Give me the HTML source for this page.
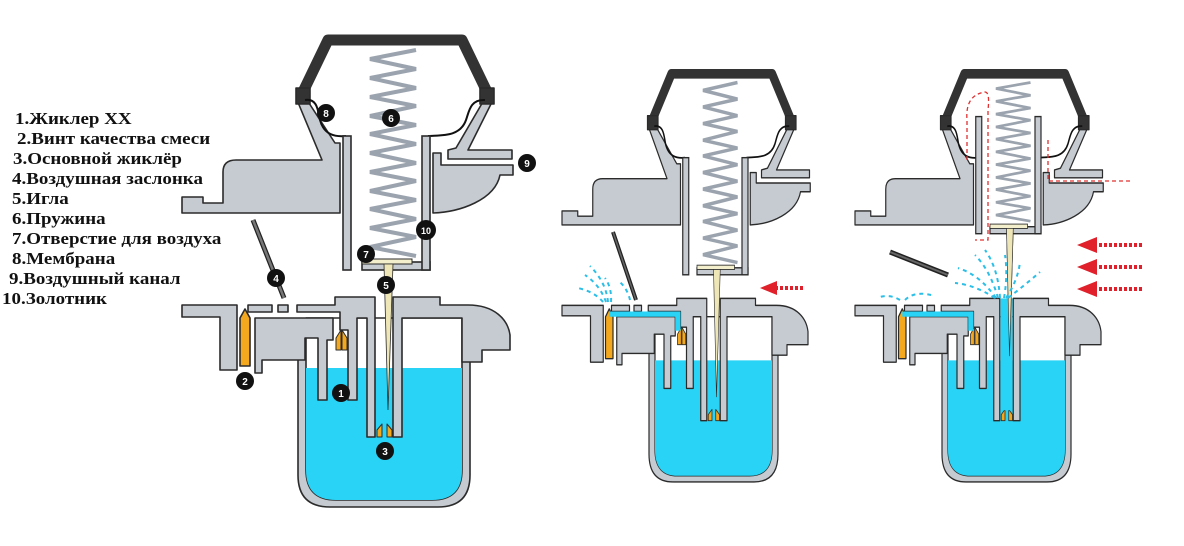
<!DOCTYPE html>
<html><head><meta charset="utf-8"><style>
html,body{margin:0;padding:0;background:#fff;}
body{width:1184px;height:546px;overflow:hidden;position:relative;}
.leg{position:absolute;font-family:"Liberation Serif","Noto Serif CJK SC",serif;font-weight:bold;font-size:16.5px;color:#111;white-space:nowrap;line-height:1;transform:scaleX(1.15);transform-origin:0 0;}
svg{position:absolute;left:0;top:0;}
</style></head><body>
<svg width="1184" height="546" viewBox="0 0 1184 546">
<defs>
<g id="lower" stroke="#2b2b2b" stroke-width="1.6" stroke-linejoin="round">
  <path d="M298,330 V475 Q298,507 330,507 H438 Q470,507 470,475 V330 Z" fill="#c6cbd1"/>
  <path d="M306,318 V470 Q306,500 336,500 H432 Q462,500 462,470 V318 Z" fill="#fff"/>
  <path d="M306,368 V470 Q306,500 336,500 H432 Q462,500 462,470 V368 Z" fill="#29d3f5" stroke="none"/>
  <polygon points="182,305 237,305 237,370 220,370 220,317 182,317" fill="#c6cbd1"/>
  <rect x="248" y="305" width="24" height="7" fill="#c6cbd1"/>
  <rect x="278" y="305" width="10" height="7" fill="#c6cbd1"/>
  <polygon points="255,318 333,318 333,340 327,340 327,400 318,400 318,338 305,338 305,360 262,360 262,373 255,373" fill="#c6cbd1"/>
  <polygon points="297,305 335,305 335,297 375,297 375,437 367,437 367,318 357,318 357,400 348,400 348,330 340,330 340,312 297,312" fill="#c6cbd1"/>
  <path d="M393,297 H440 V305 H468 C495,305 508,320 510,335 V350 H482 V362 H462 V318 H402 V437 H393 Z" fill="#c6cbd1"/>
  <polygon points="240,318 245,309 250,318 250,366 240,366" fill="#f4a81d"/>
  <polygon points="336,338 341,330 341,350 336,350" fill="#f4a81d" stroke-width="1"/>
  <polygon points="342,330 347,338 347,350 342,350" fill="#f4a81d" stroke-width="1"/>
  <polygon points="377,430 382,424 382,437 377,437" fill="#f4a81d" stroke-width="1"/>
  <polygon points="387,424 392,430 392,437 387,437" fill="#f4a81d" stroke-width="1"/>
</g>
<g id="upper" stroke="#2b2b2b" stroke-width="1.6" stroke-linejoin="round">
  <path d="M297,100 L307,100 L335,143 L340,143 L340,213 L182,213 L182,197 L203,197 L203,203 L223,203 L223,172 Q223,160 236,160 L322,160 Z" fill="#c6cbd1"/>
  <polygon points="484,100 493,100 468,150 512,150 512,159 448,159 448,150 456,148" fill="#c6cbd1"/>
  <path d="M433,153 H441 V165 H513 V175 H500 C495,200 460,212 433,213 Z" fill="#c6cbd1"/>
  <path d="M301,96 L328,40 L462,40 L489,96" fill="none" stroke="#333" stroke-width="11"/>
  <rect x="296" y="88" width="14" height="16" fill="#333"/>
  <rect x="480" y="88" width="14" height="16" fill="#333"/>
  <path d="M305,100 C318,98 318,112 320,120 C324,135 335,137 346,136" fill="none" stroke="#111" stroke-width="2"/>
  <path d="M485,100 C470,99 469,112 466,120 C460,137 442,135 428,136" fill="none" stroke="#111" stroke-width="2"/>
</g>
<g id="slider" stroke="#2b2b2b" stroke-width="1.6">
  <rect x="343" y="136" width="8" height="134" fill="#c6cbd1"/>
  <rect x="362" y="262" width="68" height="8" fill="#c6cbd1"/>
  <rect x="422" y="136" width="8" height="134" fill="#c6cbd1"/>
  <rect x="362" y="259" width="50" height="5" fill="#f3eecb" stroke-width="1"/>
  <polygon points="384,264 393,264 388,410" fill="#efe6b8" stroke-width="0.8"/>
</g>
<polyline id="spring" points="416,50 370,59 416,69 370,78 416,88 370,97 416,106 370,116 416,125 370,134 416,144 370,153 416,163 370,172 416,181 370,191 416,200 370,209 416,219 370,228 416,237 370,247 416,256" fill="none" stroke="#9ba4ae" stroke-width="4"/>
</defs>

<use href="#lower"/>
<use href="#upper"/>
<use href="#spring"/>
<use href="#slider"/>
<line x1="253" y1="220" x2="284" y2="298" stroke="#222" stroke-width="5"/>
<line x1="253" y1="220" x2="284" y2="298" stroke="#777" stroke-width="2.5"/>

<g font-family="Liberation Sans, sans-serif" font-weight="bold" font-size="10" fill="#fff" text-anchor="middle">
  <circle cx="341" cy="393" r="9" fill="#111"/><text x="341" y="397">1</text>
  <circle cx="245" cy="381" r="9" fill="#111"/><text x="245" y="385">2</text>
  <circle cx="385" cy="451" r="9" fill="#111"/><text x="385" y="455">3</text>
  <circle cx="276" cy="278" r="9" fill="#111"/><text x="276" y="282">4</text>
  <circle cx="386" cy="285" r="9" fill="#111"/><text x="386" y="289">5</text>
  <circle cx="391" cy="118" r="9" fill="#111"/><text x="391" y="122">6</text>
  <circle cx="366" cy="254" r="9" fill="#111"/><text x="366" y="258">7</text>
  <circle cx="326" cy="113" r="9" fill="#111"/><text x="326" y="117">8</text>
  <circle cx="527" cy="163" r="9" fill="#111"/><text x="527" y="167">9</text>
  <circle cx="426" cy="230" r="10" fill="#111"/><text x="426" y="234" font-size="9">10</text>
</g>

<g transform="matrix(0.75,0,0,0.874,425.5,38.8)">
  <use href="#lower"/>
  <use href="#upper"/>
  <use href="#spring"/>
  <use href="#slider"/>
  <rect x="245" y="312" width="95" height="6" fill="#29d3f5"/>
  <rect x="333" y="312" width="7" height="22" fill="#29d3f5"/>
</g>
<line x1="613" y1="232" x2="636" y2="300" stroke="#222" stroke-width="4"/>
<line x1="613" y1="232" x2="636" y2="300" stroke="#666" stroke-width="1.5"/>
<g fill="none" stroke="#2bbfe8" stroke-width="2" stroke-dasharray="4 4">
  <path d="M606,302 Q600,285 585,275"/>
  <path d="M608,302 Q606,282 590,266"/>
  <path d="M603,302 Q595,292 578,288"/>
  <path d="M611,302 Q612,288 605,278"/>
  <path d="M630,300 Q628,290 620,282"/>
</g>
<line x1="803" y1="288" x2="775" y2="288" stroke="#e0202a" stroke-width="4" stroke-dasharray="3 2"/>
<polygon points="760,288 777,281 777,295" fill="#e0202a"/>

<g transform="matrix(0.75,0,0,0.874,718.5,38.8)">
  <use href="#lower"/>
  <use href="#upper"/>
  <use href="#spring" transform="translate(0,50) scale(1,0.77) translate(0,-50)"/>
  <use href="#slider" transform="translate(0,-47)"/>
  <rect x="245" y="312" width="95" height="6" fill="#29d3f5"/>
  <rect x="333" y="312" width="7" height="22" fill="#29d3f5"/>
  <rect x="376" y="297" width="16" height="128" fill="#29d3f5"/>
  <polygon points="384,217 393,217 388,363" fill="#efe6b8" stroke="#2b2b2b" stroke-width="0.8"/>
</g>
<line x1="890" y1="252" x2="948" y2="275" stroke="#222" stroke-width="5"/>
<line x1="890" y1="252" x2="948" y2="275" stroke="#666" stroke-width="2"/>
<g fill="none" stroke="#2bbfe8" stroke-width="2" stroke-dasharray="4 4">
  <path d="M998,298 Q990,270 975,255"/>
  <path d="M996,298 Q980,275 958,268"/>
  <path d="M995,298 Q975,285 955,283"/>
  <path d="M1000,298 Q998,268 985,250"/>
  <path d="M1006,298 Q1018,280 1020,262"/>
  <path d="M1008,298 Q1025,285 1040,272"/>
  <path d="M1004,298 Q1008,275 1005,255"/>
  <path d="M900,300 Q890,294 880,297"/>
  <path d="M905,300 Q915,290 935,296"/>
</g>
<g stroke="#e0202a" stroke-width="4" stroke-dasharray="3 2">
  <line x1="1142" y1="245" x2="1095" y2="245"/>
  <line x1="1142" y1="267" x2="1095" y2="267"/>
  <line x1="1142" y1="289" x2="1095" y2="289"/>
</g>
<g fill="#e0202a">
  <polygon points="1077,245 1097,237 1097,253"/>
  <polygon points="1077,267 1097,259 1097,275"/>
  <polygon points="1077,289 1097,281 1097,297"/>
</g>
<g fill="none" stroke="#e03030" stroke-width="1.3" stroke-dasharray="4 3">
  <path d="M1130,181 H1048 V140"/>
  <path d="M967,160 V120 Q965,95 985,92 Q990,92 988,110 V240 H975"/>
</g>
</svg>

<div class="leg" style="left:15px;top:111px">1.Жиклер XX</div>
<div class="leg" style="left:17px;top:131px">2.Винт качества смеси</div>
<div class="leg" style="left:13px;top:151px">3.Основной жиклёр</div>
<div class="leg" style="left:12px;top:171px">4.Воздушная заслонка</div>
<div class="leg" style="left:12px;top:191px">5.Игла</div>
<div class="leg" style="left:12px;top:211px">6.Пружина</div>
<div class="leg" style="left:12px;top:231px">7.Отверстие для воздуха</div>
<div class="leg" style="left:12px;top:251px">8.Мембрана</div>
<div class="leg" style="left:9px;top:271px">9.Воздушный канал</div>
<div class="leg" style="left:2px;top:291px">10.Золотник</div>
</body></html>
